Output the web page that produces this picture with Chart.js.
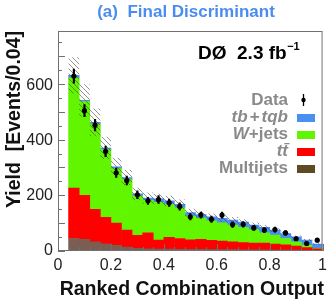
<!DOCTYPE html>
<html>
<head>
<meta charset="utf-8">
<script src="https://cdn.jsdelivr.net/npm/chart.js@4.4.1/dist/chart.umd.min.js"></script>
<style>
  html, body { margin: 0; padding: 0; background: #fff; }
</style>
</head>
<body>
<canvas id="chart" width="332" height="304"></canvas>
<script>
// bin centres of the 0.04-wide bins
const binCenters = [0.06, 0.10, 0.14, 0.18, 0.22, 0.26, 0.30, 0.34, 0.38, 0.42, 0.46, 0.50,
                    0.54, 0.58, 0.62, 0.66, 0.70, 0.74, 0.78, 0.82, 0.86, 0.90, 0.94, 0.98];
// stacked backgrounds (bottom to top)
const multijets = [45, 42, 33, 26, 20, 14, 10, 8, 7, 7, 6, 6, 6, 5, 5, 5, 4, 4, 4, 3, 3, 3, 2, 2];
const ttbar     = [181, 158, 117, 95, 80, 61, 46, 57, 32, 42, 39, 34, 36, 33, 31, 28, 26, 24, 24, 22, 19, 15, 10, 6];
const wjets     = [396, 337, 306, 243, 196, 182, 141, 117, 136, 118, 110, 85, 76, 70, 65, 60, 55, 49, 37, 32, 23, 15, 9, 2];
const tbtqb     = [9, 4, 6, 6, 6, 7, 8, 8, 12, 13, 13, 13, 13, 15, 16, 18, 19, 16, 20, 18, 18, 18, 18, 15];
// half-width of the hatched uncertainty band
const bandErr   = [65, 58, 50, 40, 33, 28, 22, 20, 19, 18, 17, 14, 13, 12, 12, 11, 10, 9, 8, 7, 6, 5, 4, 3];
// data
const dataVals  = [628, 504, 452, 358, 281, 253, 202, 180, 185, 173, 160, 123, 129, 114, 129, 95, 96, 83, 75, 77, 65, 44, 27, 39];
const dataErr   = [25, 22, 21, 19, 17, 16, 14, 13, 14, 13, 13, 11, 11, 11, 11, 10, 10, 9, 9, 9, 8, 7, 5, 6];

const xTickLabels = ['0', '0.2', '0.4', '0.6', '0.8', '1'];
const yTickLabels = ['0', '200', '400', '600'];

const FONT = '"Liberation Sans", Arial, Helvetica, sans-serif';
Chart.defaults.font.family = FONT;

const colors = {
  tb: '#4a8ff2',
  wjets: '#62f500',
  tt: '#ff0000',
  multi: '#7b5e52',
  multiLegend: '#5e4a24'
};

const ctx = document.getElementById('chart').getContext('2d');

function hatchPattern() {
  const n = 5;
  const c = document.createElement('canvas');
  c.width = n; c.height = n;
  const g = c.getContext('2d');
  g.strokeStyle = '#4a4a4a';
  g.lineWidth = 0.6;
  g.beginPath();
  g.moveTo(-1, -1); g.lineTo(n + 1, n + 1);
  g.moveTo(n - 1, -1); g.lineTo(n + 1, 1);
  g.moveTo(-1, n - 1); g.lineTo(1, n + 1);
  g.stroke();
  return ctx.createPattern(c, 'repeat');
}

const pts = vals => vals.map((v, i) => ({ x: binCenters[i], y: v }));
const totals = binCenters.map((_, i) => multijets[i] + ttbar[i] + wjets[i] + tbtqb[i]);

const stackDs = (label, vals, color) => ({
  type: 'bar', label, data: pts(vals), backgroundColor: color,
  borderWidth: 0, grouped: false, barPercentage: 1, categoryPercentage: 1,
  yAxisID: 'y', order: 10
});

const decor = {
  id: 'decor',
  beforeDraw(chart) {
    const c = chart.ctx;
    c.save();
    c.fillStyle = '#fff';
    c.fillRect(0, 0, chart.width, chart.height);
    c.restore();
  },
  afterDraw(chart) {
    const c = chart.ctx;
    const a = chart.chartArea;
    const xs = chart.scales.x, ys = chart.scales.y;
    c.save();

    // frame
    c.strokeStyle = '#707070';
    c.lineWidth = 1;
    c.strokeRect(a.left + 0.5, a.top + 0.5, a.right - a.left - 1, a.bottom - a.top - 1);

    // ticks inside the frame
    c.beginPath();
    for (let v = 0; v <= 750; v += 50) {
      const y = Math.round(ys.getPixelForValue(v)) + 0.5;
      const len = v % 100 === 0 ? 7 : 4;
      c.moveTo(a.left, y); c.lineTo(a.left + len, y);
    }
    for (let k = 0; k <= 25; k++) {
      const x = Math.round(xs.getPixelForValue(k * 0.04)) + 0.5;
      const len = k % 5 === 0 ? 7 : 4;
      c.moveTo(x, a.bottom); c.lineTo(x, a.bottom - len);
    }
    c.stroke();

    // title
    c.fillStyle = '#4a8cf0';
    c.font = 'bold 17px ' + FONT;
    c.textAlign = 'center';
    c.textBaseline = 'alphabetic';
    c.fillText('(a)  Final Discriminant', 186, 17);

    // experiment label
    c.fillStyle = '#000';
    c.textAlign = 'left';
    c.font = 'bold 19px ' + FONT;
    const lab = 'DØ  2.3 fb';
    c.fillText(lab, 198, 58.5);
    const w = c.measureText(lab).width;
    c.font = 'bold 11px ' + FONT;
    c.fillText('\u22121', 198 + w + 0.5, 50);

    // axis titles
    c.font = 'bold 19.5px ' + FONT;
    c.fillStyle = '#111';
    c.textAlign = 'right';
    c.fillText('Ranked Combination Output', 324, 295);
    c.translate(20, 31);
    c.rotate(-Math.PI / 2);
    c.fillText('Yield  [Events/0.04]', 0, 0);
    c.setTransform(1, 0, 0, 1, 0, 0);

    // legend: [text, italic, gap after]
    const rows = [
      { seg: [['Data', false, 0]], base: 105, kind: 'data' },
      { seg: [['tb', true, 2], ['+', false, 2], ['tqb', true, 0]], base: 122, color: colors.tb },
      { seg: [['W', true, 0], ['+jets', false, 0]], base: 139, color: colors.wjets },
      { seg: [['tt\u0304', true, 0]], base: 156, color: colors.tt },
      { seg: [['Multijets', false, 0]], base: 173, color: colors.multiLegend }
    ];
    c.textAlign = 'left';
    rows.forEach(r => {
      let total = 0;
      r.seg.forEach(([t, it, gap]) => {
        c.font = (it ? 'italic ' : '') + 'bold 17px ' + FONT;
        total += c.measureText(t).width + gap;
      });
      let x = 288 - total;
      r.seg.forEach(([t, it, gap]) => {
        c.font = (it ? 'italic ' : '') + 'bold 17px ' + FONT;
        c.fillStyle = '#8a8a8a';
        c.fillText(t, x, r.base);
        x += c.measureText(t).width + gap;
      });
      if (r.kind === 'data') {
        c.strokeStyle = '#000';
        c.lineWidth = 1.3;
        c.beginPath();
        c.moveTo(303.5, r.base - 11); c.lineTo(303.5, r.base + 1);
        c.stroke();
        c.fillStyle = '#000';
        c.beginPath();
        c.arc(303.5, r.base - 5, 2.2, 0, Math.PI * 2);
        c.fill();
      } else {
        c.fillStyle = r.color;
        c.fillRect(297, r.base - 8, 18, 8);
      }
    });
    c.restore();
  }
};

new Chart(ctx, {
  data: {
    datasets: [
      stackDs('Multijets', multijets, colors.multi),
      stackDs('ttbar', ttbar, colors.tt),
      stackDs('W+jets', wjets, colors.wjets),
      stackDs('tb+tqb', tbtqb, colors.tb),
      {
        type: 'bar', label: 'band',
        data: totals.map((t, i) => ({ x: binCenters[i], y: [t - bandErr[i], t + bandErr[i]] })),
        backgroundColor: hatchPattern(), borderWidth: 0, inflateAmount: 0,
        grouped: false, barPercentage: 1, categoryPercentage: 1,
        yAxisID: 'yd', order: 5
      },
      {
        type: 'bar', label: 'errors',
        data: dataVals.map((v, i) => ({ x: binCenters[i], y: [v - dataErr[i], v + dataErr[i]] })),
        backgroundColor: '#000', borderWidth: 0, grouped: false, barThickness: 1.5,
        yAxisID: 'yd', order: 2
      },
      {
        type: 'line', label: 'Data', data: pts(dataVals), showLine: false,
        pointRadius: 2.6, pointStyle: 'circle', pointBackgroundColor: '#000',
        pointBorderWidth: 0, yAxisID: 'yd', order: 1
      }
    ]
  },
  options: {
    responsive: false,
    animation: false,
    events: [],
    layout: { padding: { top: 31, right: 7, left: 0, bottom: 0 } },
    plugins: { legend: { display: false }, tooltip: { enabled: false } },
    scales: {
      x: {
        type: 'linear', min: 0, max: 1, stacked: true, offset: false,
        grid: { display: false, drawTicks: false }, border: { display: false },
        ticks: {
          stepSize: 0.2, maxRotation: 0, autoSkip: false, padding: 5,
          color: '#222', font: { size: 16 },
          callback: (v, i) => xTickLabels[i]
        },
        afterFit: s => { s.height = 53; }
      },
      y: {
        stacked: true, min: 0, max: 790,
        grid: { display: false, drawTicks: false }, border: { display: false },
        ticks: {
          stepSize: 200, autoSkip: false, padding: 5,
          color: '#222', font: { size: 16 },
          callback: (v, i) => yTickLabels[i]
        },
        afterFit: s => { s.width = 58; }
      },
      yd: { display: false, min: 0, max: 790 }
    }
  },
  plugins: [decor]
});
</script>
</body>
</html>
